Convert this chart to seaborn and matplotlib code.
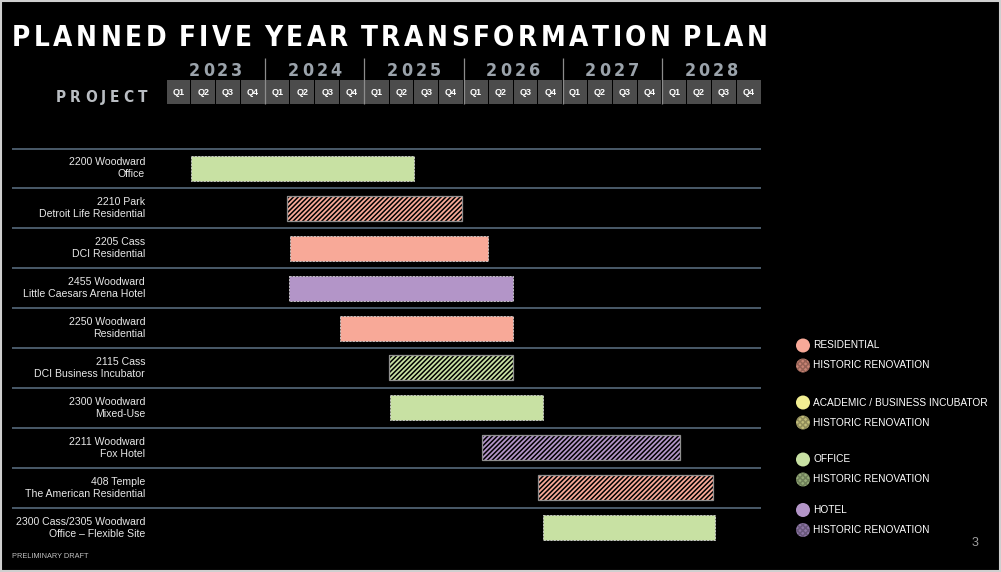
import numpy as np
import pandas as pd
import matplotlib
matplotlib.use("Agg")
import matplotlib.pyplot as plt
import seaborn as sns
from matplotlib import font_manager as fm
from matplotlib.font_manager import FontProperties
from matplotlib.patches import Rectangle, Circle

# ---------------- data ----------------
years = ["2023", "2024", "2025", "2026", "2027", "2028"]
quarters = ["Q1", "Q2", "Q3", "Q4"]

projects = [
    "2200 Woodward\nOffice",
    "2210 Park\nDetroit Life Residential",
    "2205 Cass\nDCI Residential",
    "2455 Woodward\nLittle Caesars Arena Hotel",
    "2250 Woodward\nResidential",
    "2115 Cass\nDCI Business Incubator",
    "2300 Woodward\nMixed-Use",
    "2211 Woodward\nFox Hotel",
    "408 Temple\nThe American Residential",
    "2300 Cass/2305 Woodward\nOffice \u2013 Flexible Site",
]
# start / end in quarters counted from the beginning of 2023
start_q = [1.0, 4.9, 5.0, 4.95, 7.0, 9.0, 9.05, 12.75, 15.0, 15.2]
end_q = [10.0, 11.95, 13.0, 14.0, 14.0, 14.0, 15.2, 20.75, 22.05, 22.15]
use_type = ["Office", "Residential", "Residential", "Hotel", "Residential",
            "Office", "Office", "Hotel", "Residential", "Office"]
historic = [False, True, False, False, False, True, False, True, True, False]

legend_labels = ["RESIDENTIAL", "HISTORIC RENOVATION",
                 "ACADEMIC / BUSINESS INCUBATOR", "HISTORIC RENOVATION",
                 "OFFICE", "HISTORIC RENOVATION",
                 "HOTEL", "HISTORIC RENOVATION"]
legend_types = ["Residential", "Residential", "Academic", "Academic",
                "Office", "Office", "Hotel", "Hotel"]
legend_hist = [False, True, False, True, False, True, False, True]

type_colors = {"Residential": "#f8a998", "Academic": "#f2ee92",
               "Office": "#c8e1a3", "Hotel": "#b395c8"}
hist_colors = {"Residential": "#c98474", "Academic": "#c2bd7a",
               "Office": "#95ab78", "Hotel": "#8d76a5"}

# ---------------- style ----------------
sns.set_theme(style="dark", rc={"axes.facecolor": "black",
                                "figure.facecolor": "black",
                                "hatch.linewidth": 1.1})
plt.rcParams["font.family"] = ["Liberation Sans", "DejaVu Sans"]

W, H = 1001, 572
fig = plt.figure(figsize=(W / 100, H / 100), dpi=100, facecolor="black")
renderer = fig.canvas.get_renderer()


def pick_condensed_bold():
    cands = []
    for f in fm.fontManager.ttflist:
        nm = (f.name + " " + f.fname.split("/")[-1]).lower()
        if f.style != "normal" or "italic" in nm or "oblique" in nm:
            continue
        st = str(f.stretch).lower()
        cond = any(k in nm for k in ("condensed", "narrow", "compressed")) or "condensed" in st
        if not cond:
            continue
        w = f.weight
        if isinstance(w, str):
            w = fm.weight_dict.get(w, 400)
        cands.append((abs(int(w) - 700), "semi" in nm, f.fname))
    if cands:
        cands.sort()
        return FontProperties(fname=cands[0][2])
    for fam in ["Roboto", "Liberation Sans", "DejaVu Sans"]:
        try:
            path = fm.findfont(FontProperties(family=fam, weight="bold"),
                               fallback_to_default=False)
            return FontProperties(fname=path)
        except Exception:
            pass
    return FontProperties(family="DejaVu Sans", weight="bold")


cond_fp = pick_condensed_bold()


def glyph_w(ch, fp):
    t = fig.text(0, 0, ch, fontproperties=fp)
    w = t.get_window_extent(renderer).width
    t.remove()
    return w


def tracked(s, x0, span, base_y, size, color, tmin, word_ratio=3.5):
    f = cond_fp.copy()
    f.set_size(size)
    ws = [0.0 if c == " " else glyph_w(c, f) for c in s]
    gaps = []
    for a, b in zip(s, s[1:]):
        gaps.append(word_ratio / 2 if (a == " " or b == " ") else 1.0)
    units = sum(gaps)
    sw = sum(ws)
    t = (span - sw) / units if units else 0
    if t < tmin:
        size2 = size * (span - tmin * units) / sw
        ws = [w * size2 / size for w in ws]
        f.set_size(size2)
        t = tmin
    x = x0
    for i, c in enumerate(s):
        if c != " ":
            fig.text(x / W, 1 - base_y / H, c, fontproperties=f, color=color,
                     ha="left", va="baseline")
        x += ws[i] + (gaps[i] * t if i < len(gaps) else 0)


# ---------------- geometry ----------------
L, R = 12, 761
Q0 = 166
NQ = len(years) * len(quarters)
ppq = (R - Q0) / NQ
xmin = -(Q0 - L) / ppq
top_px, bot_px = 148.5, 547.5

# ---------------- main gantt axes ----------------
ax = fig.add_axes([L / W, 1 - bot_px / H, (R - L) / W, (bot_px - top_px) / H])
df = pd.DataFrame({"project": projects, "start": start_q, "end": end_q,
                   "type": use_type, "historic": historic})
pal = {p: type_colors[t] for p, t in zip(projects, use_type)}
sns.barplot(data=df, x="end", y="project", hue="project", palette=pal,
            orient="h", width=0.627, saturation=1, legend=False, ax=ax)

for p in list(ax.patches):
    i = int(round(p.get_y() + p.get_height() / 2))
    p.set_x(start_q[i])
    p.set_width(end_q[i] - start_q[i])
    if historic[i]:
        p.set_hatch("///////")
        p.set_edgecolor("black")
        p.set_linewidth(0)
        ax.add_patch(Rectangle((p.get_x(), p.get_y()), p.get_width(), p.get_height(),
                               fill=False, edgecolor="#8f8f8f", lw=0.9,
                               zorder=p.get_zorder() + 0.1))
    else:
        p.set_edgecolor("#d6d6d6")
        p.set_linewidth(0.6)
        p.set_linestyle((0, (2.5, 1.5)))

n = len(projects)
ax.hlines(np.arange(n) - 0.5, xmin, NQ, color="#56697b", lw=1.2,
          clip_on=False, zorder=0.5)
ax.set_xlim(xmin, NQ)
ax.set_ylim(n - 0.5, -0.5)
ax.axis("off")

lab_x = (145 - Q0) / ppq
for i, lab in enumerate(projects):
    ax.text(lab_x, i, lab, ha="right", va="center", color="#e8e8e8",
            fontsize=7.6, linespacing=1.25)

# ---------------- header (years / quarters) ----------------
hx = fig.add_axes([L / W, 1 - 105 / H, (R - L) / W, 50 / H])
hx.set_xlim(xmin, NQ)
hx.set_ylim(105, 55)
hx.axis("off")
qlabels = [q for _ in years for q in quarters]
qpos = np.arange(NQ) + 0.5
hx.bar(qpos, 24, bottom=80, width=(ppq - 1) / ppq, color="#4c4c4c",
       edgecolor="none", linewidth=0)
for xq, q in zip(qpos, qlabels):
    hx.text(xq, 92.5, q, ha="center", va="center", color="white",
            fontsize=6.5, fontweight="bold")
hx.vlines(np.arange(len(quarters), NQ, len(quarters)), 58, 104,
          color="#8c8c8c", lw=0.9)

for k, yr in enumerate(years):
    cx = Q0 + (len(quarters) * k + len(quarters) / 2) * ppq
    tracked(yr, cx - 27, 54, 76, 16, "#9ba3ab", tmin=3)

tracked("PROJECT", 56, 91, 102, 16, "#b9bdc2", tmin=4)
tracked("PLANNED FIVE YEAR TRANSFORMATION PLAN", 12, 756, 46, 26, "white",
        tmin=3.5)

# ---------------- overlay (legend, footer, frame) ----------------
ov = fig.add_axes([0, 0, 1, 1])
ov.set_xlim(0, W)
ov.set_ylim(H, 0)
ov.axis("off")
ov.patch.set_alpha(0)

leg_y = [345.5, 365.5, 402.5, 422.5, 459.5, 479.5, 510, 530]
for y, lab, t, hflag in zip(leg_y, legend_labels, legend_types, legend_hist):
    if hflag:
        c = Circle((803, y), 7, facecolor=hist_colors[t], edgecolor=(0, 0, 0, 0.25),
                   lw=0, hatch="xxxxxx")
    else:
        c = Circle((803, y), 7, facecolor=type_colors[t], lw=0)
    ov.add_patch(c)
    ov.text(813, y, lab, ha="left", va="center", color="white", fontsize=7.3)

ov.text(975, 543, "3", ha="center", va="center", color="#a0a0a0", fontsize=9)
ov.text(12, 557, "PRELIMINARY DRAFT", ha="left", va="center", color="#c0c0c0",
        fontsize=5.3)
ov.add_patch(Rectangle((0.5, 0.5), W - 1.5, H - 1.5, fill=False,
                       edgecolor="#cfcfcf", lw=1.5))

fig.savefig("out.png", dpi=100, facecolor="black")
